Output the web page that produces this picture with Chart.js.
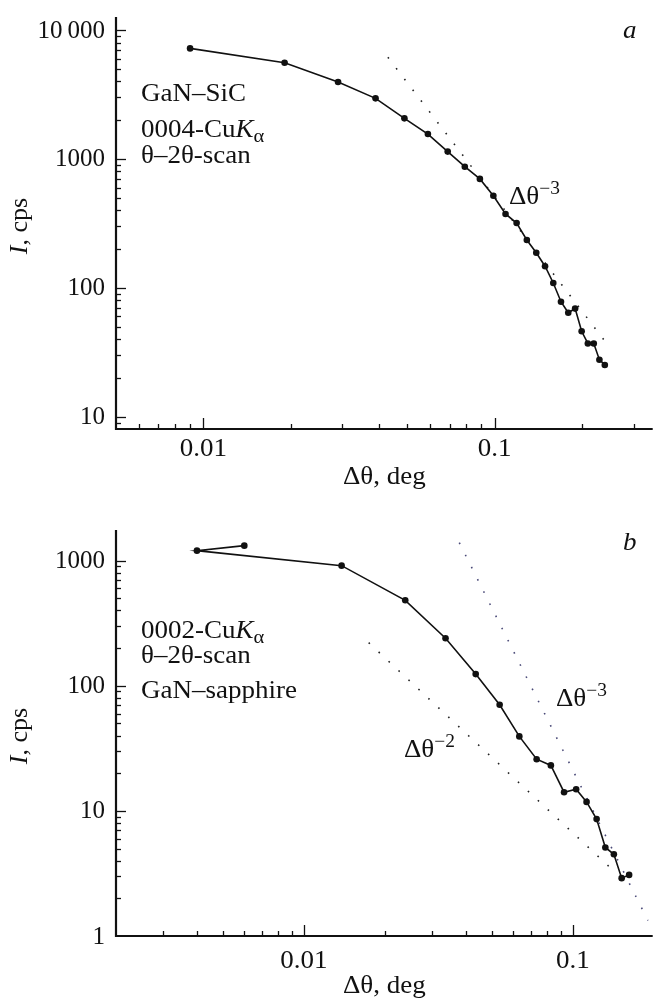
<!DOCTYPE html>
<html>
<head>
<meta charset="utf-8">
<script src="https://cdn.jsdelivr.net/npm/chart.js@4/dist/chart.umd.min.js"></script>
<style>
  html, body { margin: 0; padding: 0; background: #fff; }
  #boxA { position: absolute; left: 0; top: 0; }
  #boxB { position: absolute; left: 0; top: 500px; }
</style>
</head>
<body>
<div id="boxA"><canvas id="chartA" width="656" height="500"></canvas></div>
<div id="boxB"><canvas id="chartB" width="656" height="498"></canvas></div>
<script>
// (a) GaN-SiC, 0004 reflection
const dThetaA = [0.009, 0.019, 0.029, 0.039, 0.049, 0.059, 0.069, 0.079, 0.089, 0.099,
                 0.109, 0.119, 0.129, 0.139, 0.149, 0.159, 0.169, 0.179, 0.189, 0.199,
                 0.209, 0.219, 0.229, 0.239];
const intensA = [7200, 5580, 3950, 2950, 2065, 1560, 1140, 870, 700, 518,
                 374, 318, 235, 187, 147, 109, 78, 64, 69, 46,
                 37, 37, 27.7, 25.2];
// guide line  ~ dTheta^-3
const guideAX = [0.043, 0.246];
const guideAY = [6140, 35.5];

// (b) GaN-sapphire, 0002 reflection (first point drawn back to the second)
const dThetaB = [0.006, 0.004, 0.0138, 0.0238, 0.0336, 0.0435, 0.0534, 0.0632, 0.0733, 0.0828,
                 0.0927, 0.1028, 0.1124, 0.1225, 0.132, 0.142, 0.1518, 0.1618];
const intensB = [1318, 1202, 912, 482, 240, 124, 70.5, 39.4, 25.9, 23.1,
                 14.1, 14.9, 11.8, 8.6, 5.1, 4.5, 2.9, 3.08];
const guideB3X = [0.0378, 0.19];
const guideB3Y = [1393, 1.33];
const guideB2X = [0.0174, 0.144];
const guideB2Y = [221, 3.21];

// ticks
const yTicksA = [10, 100, 1000, 10000];
const yLabelsA = ['10', '100', '1000', '10\u2009000'];
const yTicksB = [1, 10, 100, 1000];
const yLabelsB = ['1', '10', '100', '1000'];
const xTicks = [0.01, 0.1];
const xLabels = ['0.01', '0.1'];

const FONT = '"Liberation Serif", "Times New Roman", serif';
const SX = 1.08; // text in the scan is a bit wide

function rich(ctx, x, y, parts, align) {
  let w = 0;
  parts.forEach(p => {
    ctx.font = (p.it ? 'italic ' : '') + (p.s || 25) + 'px ' + FONT;
    w += ctx.measureText(p.t).width;
  });
  ctx.save();
  ctx.translate(x, y);
  ctx.scale(SX, 1);
  ctx.textAlign = 'left';
  let cx = align === 'center' ? -w / 2 : 0;
  parts.forEach(p => {
    ctx.font = (p.it ? 'italic ' : '') + (p.s || 25) + 'px ' + FONT;
    ctx.fillText(p.t, cx, p.dy || 0);
    cx += ctx.measureText(p.t).width;
  });
  ctx.restore();
}

function minorTicks(min, max) {
  const out = [];
  for (let e = Math.floor(Math.log10(min)); e <= Math.ceil(Math.log10(max)); e++) {
    for (let m = 1; m <= 9; m++) {
      const v = m * Math.pow(10, e);
      if (v >= min && v <= max) out.push({ v, major: m === 1 });
    }
  }
  return out;
}

// draws axes, tick marks, labels and texts
function axesPlugin(opt) {
  return {
    id: 'axesDraw',
    afterDraw(chart) {
      const ctx = chart.ctx, a = chart.chartArea;
      const xs = chart.scales.x, ys = chart.scales.y;
      ctx.save();
      ctx.strokeStyle = '#111';
      ctx.fillStyle = '#111';
      ctx.lineWidth = 2.2;
      ctx.beginPath();
      ctx.moveTo(a.left, a.top);
      ctx.lineTo(a.left, a.bottom);
      ctx.lineTo(a.right, a.bottom);
      ctx.stroke();

      ctx.lineWidth = 1.3;
      minorTicks(xs.min, xs.max).forEach(t => {
        const px = Math.round(xs.getPixelForValue(t.v)) + 0.5;
        if (px < a.left + 2) return;
        ctx.beginPath();
        ctx.moveTo(px, a.bottom);
        ctx.lineTo(px, a.bottom - (t.major ? 11 : 5));
        ctx.stroke();
      });
      minorTicks(ys.min, ys.max).forEach(t => {
        const py = Math.round(ys.getPixelForValue(t.v)) + 0.5;
        if (py > a.bottom - 2) return;
        ctx.beginPath();
        ctx.moveTo(a.left, py);
        ctx.lineTo(a.left + (t.major ? 10 : 5), py);
        ctx.stroke();
      });

      ctx.font = '25px ' + FONT;
      ctx.textAlign = 'right';
      ctx.textBaseline = 'middle';
      opt.yTicks.forEach((v, i) => {
        ctx.fillText(opt.yLabels[i], a.left - 11, ys.getPixelForValue(v) + 1);
      });
      ctx.textBaseline = 'alphabetic';
      xTicks.forEach((v, i) => {
        rich(ctx, xs.getPixelForValue(v), a.bottom + opt.xLabelDy, [{ t: xLabels[i] }], 'center');
      });
      // axis titles
      rich(ctx, (a.left + a.right) / 2, a.bottom + opt.xTitleDy, [{ t: '\u0394\u03b8, deg' }], 'center');
      ctx.save();
      ctx.translate(27, (a.top + a.bottom) / 2 + 3);
      ctx.rotate(-Math.PI / 2);
      ctx.textAlign = 'left';
      let cx;
      ctx.font = 'italic 26px ' + FONT;
      const w1 = ctx.measureText('I').width;
      ctx.font = '26px ' + FONT;
      const w2 = ctx.measureText(', cps').width;
      cx = -(w1 + w2) / 2;
      ctx.font = 'italic 26px ' + FONT;
      ctx.fillText('I', cx, 0);
      ctx.font = '26px ' + FONT;
      ctx.fillText(', cps', cx + w1, 0);
      ctx.restore();

      opt.texts.forEach(tx => rich(ctx, tx.x, tx.y, tx.parts));
      ctx.restore();
    }
  };
}

function makeChart(id, cfg) {
  return new Chart(document.getElementById(id), {
    type: 'scatter',
    data: {
      datasets: [
        {
          data: cfg.x.map((v, i) => ({ x: v, y: cfg.y[i] })),
          showLine: true,
          borderColor: '#111',
          backgroundColor: '#111',
          borderWidth: 1.6,
          pointRadius: 3.3,
          pointHoverRadius: 3.3,
          pointBorderWidth: 0
        },
        ...cfg.guides.map(g => ({
          data: g.x.map((v, i) => ({ x: v, y: g.y[i] })),
          showLine: true,
          borderColor: g.color,
          borderWidth: 1.6,
          borderDash: [1.6, 12],
          pointRadius: 0
        }))
      ]
    },
    options: {
      responsive: false,
      animation: false,
      layout: { padding: cfg.padding },
      plugins: { legend: { display: false }, tooltip: { enabled: false } },
      scales: {
        x: { type: 'logarithmic', min: cfg.xMin, max: cfg.xMax, display: false },
        y: { type: 'logarithmic', min: cfg.yMin, max: cfg.yMax, display: false }
      }
    },
    plugins: [axesPlugin(cfg)]
  });
}

makeChart('chartA', {
  x: dThetaA, y: intensA,
  guides: [{ x: guideAX, y: guideAY, color: '#222' }],
  xMin: 0.00501, xMax: 0.349, yMin: 8.03, yMax: 12620,
  padding: { left: 116, top: 17, right: 0, bottom: 71 },
  yTicks: yTicksA, yLabels: yLabelsA,
  xLabelDy: 27, xTitleDy: 55,
  texts: [
    { x: 141, y: 101, parts: [{ t: 'GaN\u2013SiC' }] },
    { x: 141, y: 137, parts: [{ t: '0004-Cu' }, { t: 'K', it: true }, { t: '\u03b1', s: 19, dy: 5 }] },
    { x: 141, y: 163, parts: [{ t: '\u03b8\u20132\u03b8-scan' }] },
    { x: 509, y: 204, parts: [{ t: '\u0394\u03b8' }, { t: '\u22123', s: 18, dy: -10 }] },
    { x: 623, y: 38, parts: [{ t: 'a', it: true }] }
  ]
});

makeChart('chartB', {
  x: dThetaB, y: intensB,
  guides: [
    { x: guideB3X, y: guideB3Y, color: '#4a4a78' },
    { x: guideB2X, y: guideB2Y, color: '#222' }
  ],
  xMin: 0.002, xMax: 0.198, yMin: 1, yMax: 1758,
  padding: { left: 116, top: 30, right: 0, bottom: 62 },
  yTicks: yTicksB, yLabels: yLabelsB,
  xLabelDy: 32, xTitleDy: 57,
  texts: [
    { x: 141, y: 138, parts: [{ t: '0002-Cu' }, { t: 'K', it: true }, { t: '\u03b1', s: 19, dy: 5 }] },
    { x: 141, y: 163, parts: [{ t: '\u03b8\u20132\u03b8-scan' }] },
    { x: 141, y: 198, parts: [{ t: 'GaN\u2013sapphire' }] },
    { x: 556, y: 206, parts: [{ t: '\u0394\u03b8' }, { t: '\u22123', s: 18, dy: -10 }] },
    { x: 404, y: 257, parts: [{ t: '\u0394\u03b8' }, { t: '\u22122', s: 18, dy: -10 }] },
    { x: 623, y: 50, parts: [{ t: 'b', it: true }] }
  ]
});
</script>
</body>
</html>
